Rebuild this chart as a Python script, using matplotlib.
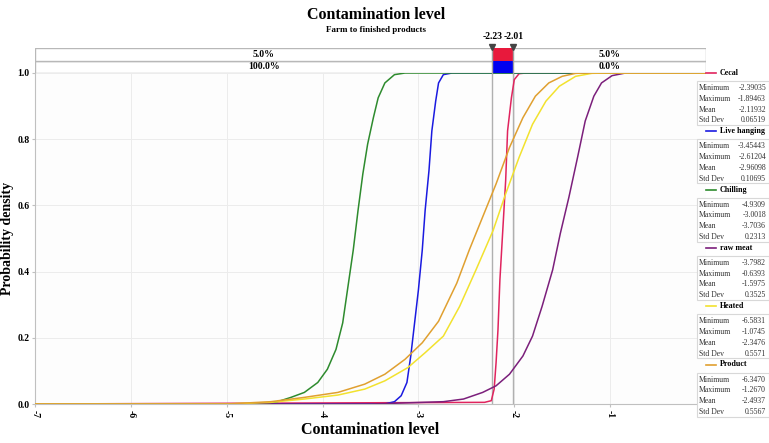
import matplotlib
matplotlib.use('Agg')
import matplotlib.pyplot as plt
import matplotlib.patches as patches

plt.rcParams['font.family'] = ['Liberation Serif', 'DejaVu Serif']

# 곡선 데이터
cecal_x = [-7, -2.31, -2.24, -2.21, -2.19, -2.17, -2.15, -2.12, -2.09, -2.07, -2.03, -2.00, -1.95, -1.88, 0]
cecal_y = [0, 0.005, 0.01, 0.045, 0.125, 0.225, 0.375, 0.525, 0.675, 0.825, 0.925, 0.98, 0.998, 1.0, 1.0]

live_x = [-7, -3.35, -3.25, -3.18, -3.12, -3.08, -3.04, -3.00, -2.96, -2.93, -2.89, -2.86,
          -2.82, -2.79, -2.74, -2.65, 0]
live_y = [0, 0.0, 0.007, 0.025, 0.065, 0.145, 0.245, 0.345, 0.465, 0.585, 0.705, 0.825,
          0.915, 0.97, 0.995, 1.0, 1.0]

chill_x = [-7, -4.60, -4.47, -4.33, -4.19, -4.05, -3.95, -3.86, -3.79, -3.74, -3.68, -3.63,
           -3.58, -3.53, -3.47, -3.42, -3.35, -3.25, -3.14, 0]
chill_y = [0, 0.0, 0.007, 0.02, 0.035, 0.065, 0.105, 0.165, 0.245, 0.345, 0.465, 0.585,
           0.695, 0.785, 0.865, 0.925, 0.97, 0.995, 1.0, 1.0]

raw_x = [-7, -3.50, -2.74, -2.53, -2.33, -2.19, -2.05, -1.91, -1.81, -1.71, -1.60, -1.52,
         -1.43, -1.34, -1.26, -1.17, -1.09, -0.98, -0.84, 0]
raw_y = [0, 0.0, 0.007, 0.015, 0.035, 0.055, 0.09, 0.145, 0.205, 0.295, 0.405, 0.515,
         0.625, 0.745, 0.855, 0.93, 0.97, 0.992, 1.0, 1.0]

heated_x = [-7, -5.00, -4.54, -4.19, -3.84, -3.56, -3.35, -3.11, -2.93, -2.74, -2.57, -2.40,
            -2.22, -2.09, -1.95, -1.81, -1.67, -1.53, -1.36, -1.19, -1.02, 0]
heated_y = [0, 0.0, 0.005, 0.015, 0.027, 0.045, 0.07, 0.11, 0.155, 0.205, 0.295, 0.405,
            0.525, 0.635, 0.745, 0.845, 0.915, 0.96, 0.99, 0.999, 1.0, 1.0]

product_x = [-7, -5.00, -4.54, -4.19, -3.84, -3.56, -3.35, -3.14, -2.96, -2.79, -2.60, -2.47,
             -2.33, -2.19, -2.05, -1.91, -1.78, -1.64, -1.50, -1.36, -1.19, 0]
product_y = [0, 0.0, 0.007, 0.02, 0.035, 0.06, 0.09, 0.135, 0.185, 0.25, 0.365, 0.465,
             0.565, 0.665, 0.775, 0.865, 0.93, 0.97, 0.99, 0.999, 1.0, 1.0]

series_names = ['Cecal', 'Live hanging', 'Chilling', 'raw meat', 'Heated', 'Product']
series_colors = ['#e0245e', '#1a1ae0', '#2e8b2e', '#7b1f7b', '#f2e22e', '#e0a030']
series_x = [cecal_x, live_x, chill_x, raw_x, heated_x, product_x]
series_y = [cecal_y, live_y, chill_y, raw_y, heated_y, product_y]

# 통계값
stat_labels = ['Minimum', 'Maximum', 'Mean', 'Std Dev']
stat_values = [
    ['-2.39035', '-1.89463', '-2.11932', '0.06519'],
    ['-3.45443', '-2.61204', '-2.96098', '0.10695'],
    ['-4.9309', '-3.0018', '-3.7036', '0.2313'],
    ['-3.7982', '-0.6393', '-1.5975', '0.3525'],
    ['-6.5831', '-1.0745', '-2.3476', '0.5571'],
    ['-6.3470', '-1.2670', '-2.4937', '0.5567'],
]

lower_cut = -2.23
upper_cut = -2.01
band_top = ['5.0%', '5.0%']
band_bottom = ['100.0%', '0.0%']

W, H = 769, 443
fig = plt.figure(figsize=(W / 100, H / 100), dpi=100)
fig.patch.set_facecolor('white')

ax_l, ax_r, ax_t, ax_b = 35, 706, 73, 404
ax = fig.add_axes([ax_l / W, 1 - ax_b / H, (ax_r - ax_l) / W, (ax_b - ax_t) / H])
ax.set_facecolor('#fdfdfd')

for name, color, xs, ys in zip(series_names, series_colors, series_x, series_y):
    ax.plot(xs, ys, color=color, linewidth=1.1, zorder=3,
            solid_joinstyle='round', solid_capstyle='round')

ax.axvline(lower_cut, color='#b0b0b0', linewidth=1.0, zorder=2)
ax.axvline(upper_cut, color='#b0b0b0', linewidth=1.0, zorder=2)

ax.set_xlim(-7, 0)
ax.set_ylim(0, 1.0)
ax.set_xticks(range(-7, 1))
ax.set_xticklabels([str(v) for v in range(-7, 1)], rotation=-90, fontsize=7, fontweight='bold')
ax.set_yticks([0, 0.2, 0.4, 0.6, 0.8, 1.0])
ax.set_yticklabels(['0.0', '0.2', '0.4', '0.6', '0.8', '1.0'], fontsize=7, fontweight='bold')
ax.tick_params(length=2, color='#c0c0c0', pad=2)
ax.grid(True, color='#ececec', linewidth=0.7)
for side in ['top', 'right']:
    ax.spines[side].set_visible(False)
for side in ['left', 'bottom']:
    ax.spines[side].set_color('#c0c0c0')

ax.set_xlabel('Contamination level', fontsize=11.5, fontweight='bold', labelpad=3)
ax.set_ylabel('Probability density', fontsize=10, fontweight='bold')
ax.yaxis.set_label_coords(-0.031, 0.5)

# 상단 구간 표시줄
band_t = 48
band = fig.add_axes([ax_l / W, 1 - ax_t / H, (ax_r - ax_l) / W, (ax_t - band_t) / H])
band.set_xlim(-7, 0)
band.set_ylim(0, 2)
band.axis('off')
for row in [0, 1]:
    band.add_patch(patches.Rectangle((-7, row), 7, 1, facecolor='white',
                                     edgecolor='#b8b8b8', linewidth=1.0))
band.add_patch(patches.Rectangle((lower_cut, 1), upper_cut - lower_cut, 1,
                                 facecolor='#e8193c', edgecolor='none'))
band.add_patch(patches.Rectangle((lower_cut, 0), upper_cut - lower_cut, 1,
                                 facecolor='#0000f0', edgecolor='none'))
left_mid = (-7 + lower_cut) / 2
right_mid = upper_cut / 2
band.text(left_mid, 1.5, band_top[0], ha='center', va='center', fontsize=7, fontweight='bold')
band.text(right_mid, 1.5, band_top[1], ha='center', va='center', fontsize=7, fontweight='bold')
band.text(left_mid, 0.5, band_bottom[0], ha='center', va='center', fontsize=7, fontweight='bold')
band.text(right_mid, 0.5, band_bottom[1], ha='center', va='center', fontsize=7, fontweight='bold')
for cut in [lower_cut, upper_cut]:
    band.plot([cut, cut], [0, 2], color='#a0a0a0', linewidth=1.0, clip_on=False)
    band.plot(cut, 2.1, marker='v', color='#444444', markersize=5, clip_on=False)
    band.text(cut, 2.55, f'{cut:.2f}', ha='center', va='bottom', fontsize=7, fontweight='bold')

fig.text(376 / W, 1 - 15 / H, 'Contamination level', ha='center', va='center',
         fontsize=11.5, fontweight='bold')
fig.text(376 / W, 1 - 30 / H, 'Farm to finished products', ha='center', va='center',
         fontsize=6.5, fontweight='bold')

# 오른쪽 범례와 통계
head_y = 73
step = 58.3
for i, (name, color) in enumerate(zip(series_names, series_colors)):
    y0 = head_y + i * step
    fig.add_artist(plt.Line2D([706 / W, 716 / W], [1 - y0 / H, 1 - y0 / H],
                              color=color, linewidth=1.2))
    fig.text(720 / W, 1 - y0 / H, name, ha='left', va='center', fontsize=5.8, fontweight='bold')
    fig.add_artist(patches.Rectangle((697 / W, 1 - (y0 + 52) / H), 72 / W, 44 / H,
                                     transform=fig.transFigure, facecolor='white',
                                     edgecolor='#d8d8d8', linewidth=0.8))
    for j, lab in enumerate(stat_labels):
        yy = y0 + 15 + j * 10.8
        fig.text(699 / W, 1 - yy / H, lab, ha='left', va='center', fontsize=5.6, color='#333333')
        fig.text(766 / W, 1 - yy / H, stat_values[i][j], ha='right', va='center',
                 fontsize=5.6, color='#333333')

fig.savefig('out.png', dpi=100)
